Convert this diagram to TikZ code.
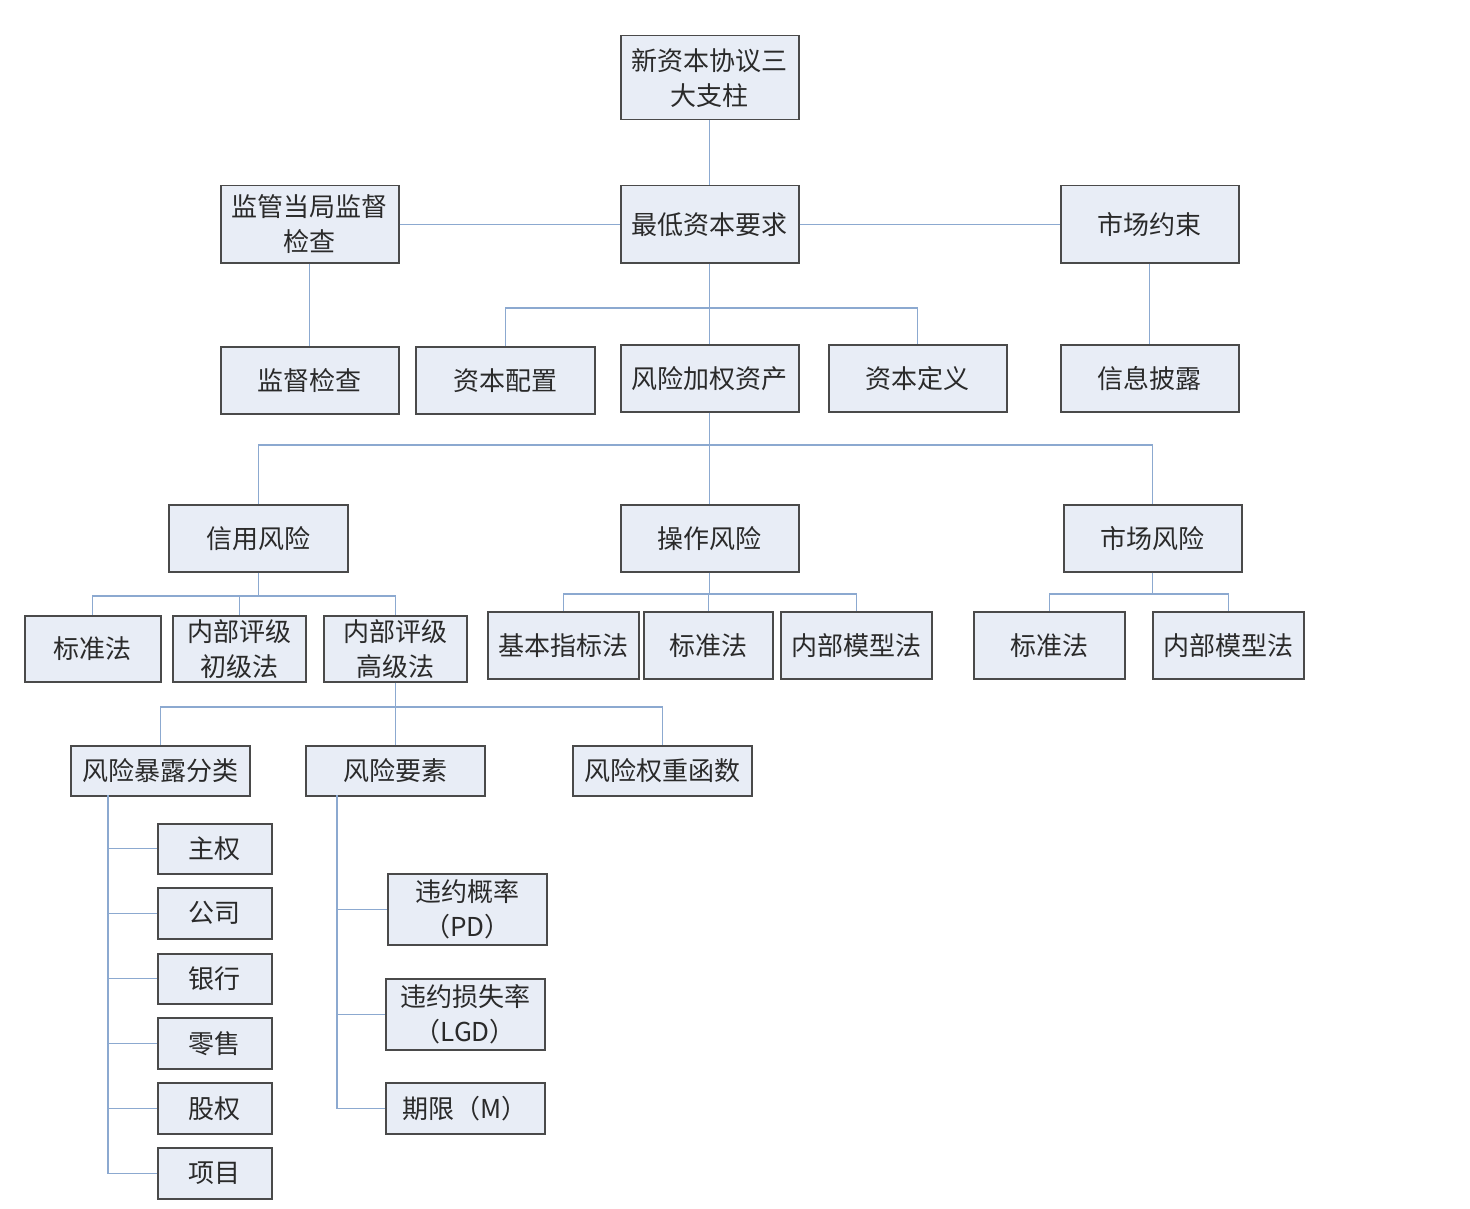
\documentclass[tikz,border=0pt]{standalone}
\usepackage{fontspec}
\newfontfamily\cjk{Noto Sans CJK SC}
\definecolor{boxfill}{HTML}{E8EDF6}
\definecolor{boxline}{HTML}{4A4A4A}
\definecolor{conncol}{HTML}{8CA9D0}
\definecolor{txtcol}{HTML}{2A2A2A}
\tikzset{
  box/.style={draw=boxline, line width=1.5pt, fill=boxfill, anchor=north west,
    inner sep=0pt, align=center, text=txtcol,
    font=\cjk\fontsize{26}{35}\selectfont},
  conn/.style={draw=conncol, line width=1.4pt}
}
\begin{document}
\begin{tikzpicture}[x=1pt,y=-1pt]
\useasboundingbox[fill=white] (0,0) rectangle (1470,1209);
% level 0-1
\node[box, minimum width=178, minimum height=84] (top) at (620,35) {新资本协议三\\大支柱};
\node[box, minimum width=178, minimum height=77] (min) at (620,185) {最低资本要求};
\node[box, minimum width=178, minimum height=77] (jg) at (220,185) {监管当局监督\\检查};
\node[box, minimum width=178, minimum height=77] (scys) at (1060,185) {市场约束};
% level 2
\node[box, minimum width=178, minimum height=67] (jdjc) at (220,346) {监督检查};
\node[box, minimum width=179, minimum height=67] (zbpz) at (415,346) {资本配置};
\node[box, minimum width=178, minimum height=67] (fxjq) at (620,344) {风险加权资产};
\node[box, minimum width=178, minimum height=67] (zbdy) at (828,344) {资本定义};
\node[box, minimum width=178, minimum height=67] (xxpl) at (1060,344) {信息披露};
% level 3
\node[box, minimum width=179, minimum height=67] (xy) at (168,504) {信用风险};
\node[box, minimum width=178, minimum height=67] (cz) at (620,504) {操作风险};
\node[box, minimum width=178, minimum height=67] (sc) at (1063,504) {市场风险};
% level 4
\node[box, minimum width=136, minimum height=66] (xbz) at (24,615) {标准法};
\node[box, minimum width=133, minimum height=66] (xcj) at (172,615) {内部评级\\初级法};
\node[box, minimum width=143, minimum height=66] (xgj) at (323,615) {内部评级\\高级法};
\node[box, minimum width=151, minimum height=67] (cjb) at (487,611) {基本指标法};
\node[box, minimum width=129, minimum height=67] (cbz) at (643,611) {标准法};
\node[box, minimum width=151, minimum height=67] (cnb) at (780,611) {内部模型法};
\node[box, minimum width=151, minimum height=67] (sbz) at (973,611) {标准法};
\node[box, minimum width=151, minimum height=67] (snb) at (1152,611) {内部模型法};
% level 5
\node[box, minimum width=179, minimum height=50] (bl) at (70,745) {风险暴露分类};
\node[box, minimum width=179, minimum height=50] (ys) at (305,745) {风险要素};
\node[box, minimum width=179, minimum height=50] (qz) at (572,745) {风险权重函数};
% level 6
\node[box, minimum width=114, minimum height=50] (zq) at (157,823) {主权};
\node[box, minimum width=114, minimum height=51] (gs) at (157,887) {公司};
\node[box, minimum width=114, minimum height=50] (yh) at (157,953) {银行};
\node[box, minimum width=114, minimum height=51] (ls) at (157,1017) {零售};
\node[box, minimum width=114, minimum height=51] (gq) at (157,1082) {股权};
\node[box, minimum width=114, minimum height=51] (xm) at (157,1147) {项目};
\node[box, minimum width=159, minimum height=71] (pd) at (387,873) {违约概率\\（PD）};
\node[box, minimum width=159, minimum height=71] (lgd) at (385,978) {违约损失率\\（LGD）};
\node[box, minimum width=159, minimum height=51] (mm) at (385,1082) {期限（M）};
% junction coordinates
\coordinate (j1) at (709,308);
\coordinate (j2) at (709,445);
\coordinate (j3) at (258,596);
\coordinate (j4) at (709,594);
\coordinate (j5) at (1153,594);
\coordinate (j6) at (395,707);
\coordinate (bv) at (108,795);
\coordinate (yv) at (337,795);
% connectors
\draw[conn] (top) -- (min);
\draw[conn] (jg) -- (min);
\draw[conn] (min) -- (scys);
\draw[conn] (jg) -- (jdjc);
\draw[conn] (scys) -- (xxpl);
\draw[conn] (min.south) -- (min.south |- j1);
\draw[conn] (fxjq.north) -- (fxjq.north |- j1);
\draw[conn] (zbpz.north) |- (j1) -| (zbdy.north);
\draw[conn] (fxjq.south) -- (fxjq.south |- j2);
\draw[conn] (cz.north) -- (cz.north |- j2);
\draw[conn] (xy.north) |- (j2) -| (sc.north);
\draw[conn] (xy.south) -- (xy.south |- j3);
\draw[conn] (xcj.north) -- (xcj.north |- j3);
\draw[conn] (xbz.north) |- (j3) -| (xgj.north);
\draw[conn] (cz.south) -- (cz.south |- j4);
\draw[conn] (cbz.north) -- (cbz.north |- j4);
\draw[conn] (cjb.north) |- (j4) -| (cnb.north);
\draw[conn] (sc.south) -- (sc.south |- j5);
\draw[conn] (sbz.north) |- (j5) -| (snb.north);
\draw[conn] (xgj.south) -- (xgj.south |- j6);
\draw[conn] (ys.north) -- (ys.north |- j6);
\draw[conn] (bl.north) |- (j6) -| (qz.north);
\draw[conn] (bv) |- (xm.west);
\foreach \n in {zq,gs,yh,ls,gq} { \draw[conn] (bv |- \n.west) -- (\n.west); }
\draw[conn] (yv) |- (mm.west);
\foreach \n in {pd,lgd} { \draw[conn] (yv |- \n.west) -- (\n.west); }
\end{tikzpicture}
\end{document}
